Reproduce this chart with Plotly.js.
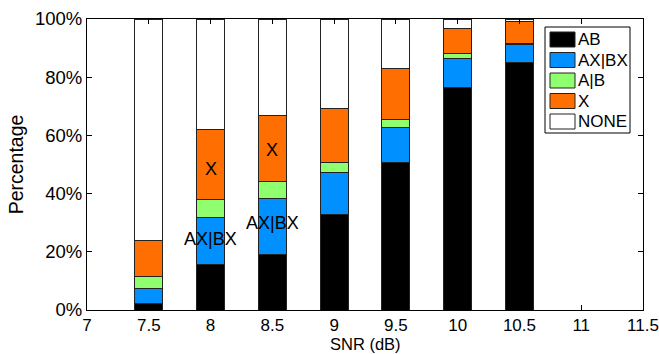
<!DOCTYPE html>
<html><head><meta charset="utf-8">
<script src="https://cdn.plot.ly/plotly-3.0.1.min.js"></script>
<style>html,body{margin:0;padding:0;background:#fff}#chart{width:659px;height:354px}</style>
</head><body><div id="chart"></div>
<script>
const snr = [7.5, 8, 8.5, 9, 9.5, 10, 10.5];
const seriesNames = ['AB', 'AX|BX', 'A|B', 'X', 'NONE'];
const ab   = [2.4, 15.8, 19.1, 32.9, 50.6, 76.6, 85.2];
const axbx = [5.0, 15.9, 19.3, 14.3, 12.0, 9.9, 5.9];
const aOrB = [4.1, 6.3, 5.7, 3.4, 2.8, 1.7, 0.6];
const xOnly = [12.5, 24.2, 22.9, 18.5, 17.6, 8.6, 7.6];
const none = [76.0, 37.8, 33.0, 30.9, 17.0, 3.2, 0.7];
const xTicks = [7, 7.5, 8, 8.5, 9, 9.5, 10, 10.5, 11, 11.5];
const yTicks = [0, 20, 40, 60, 80, 100];
const annX = [8, 8.5, 8, 8.5];
const annY = [48.5, 55, 24.3, 30];
const annText = ['X', 'X', 'AX|BX', 'AX|BX'];

const colors = ['#000000', '#0090ff', '#8fff6f', '#ff6e00', '#ffffff'];
const values = [ab, axbx, aOrB, xOnly, none];
const font = 'Liberation Sans, Arial, sans-serif';

const traces = values.map((v, i) => ({
  type: 'bar', x: snr, y: v, name: seriesNames[i], width: 0.225,
  marker: {color: colors[i], line: {color: '#222', width: 1}},
  hoverinfo: 'skip', showlegend: false
}));

const annotations = annX.map((x, i) => ({
  x: x, y: annY[i], xref: 'x', yref: 'y', text: annText[i], showarrow: false,
  font: {family: font, size: 18, color: '#000'}
}));

// x-axis title placed at the bottom edge of the page
annotations.push({xref: 'paper', yref: 'paper', x: 0.5, y: (310 - 354) / 291,
  xanchor: 'center', yanchor: 'bottom', text: 'SNR (dB)', showarrow: false, borderpad: 0,
  font: {family: font, size: 16.5, color: '#000'}});

// custom legend (paper coords)
const shapes = [];
const lx0 = (545 - 87) / 556, lx1 = (630 - 87) / 556;
const ly0 = (310 - 133) / 291, ly1 = (310 - 27) / 291;
shapes.push({type: 'rect', xref: 'paper', yref: 'paper', x0: lx0, x1: lx1, y0: ly0, y1: ly1,
  line: {color: '#000', width: 1}, fillcolor: '#fff'});
seriesNames.forEach((n, i) => {
  const cy = 39.5 + i * 20.5;
  shapes.push({type: 'rect', xref: 'paper', yref: 'paper',
    x0: (550 - 87) / 556, x1: (575 - 87) / 556,
    y0: (310 - (cy + 7.5)) / 291, y1: (310 - (cy - 7.5)) / 291,
    line: {color: '#222', width: 1}, fillcolor: colors[i]});
  annotations.push({xref: 'paper', yref: 'paper', x: (576 - 87) / 556, y: (310 - cy) / 291,
    xanchor: 'left', yanchor: 'middle', text: n, showarrow: false,
    font: {family: font, size: 17, color: '#000'}});
});

const layout = {
  width: 659, height: 354,
  margin: {l: 87, r: 16, t: 19, b: 44},
  paper_bgcolor: '#fff', plot_bgcolor: '#fff',
  barmode: 'stack',
  font: {family: font, size: 17, color: '#000'},
  xaxis: {
    range: [7, 11.5], tickvals: xTicks, ticktext: xTicks.map(String),
    ticks: 'inside', ticklen: 5, tickcolor: '#000', mirror: 'ticks',
    showline: true, linecolor: '#000', linewidth: 1, showgrid: false, zeroline: false,
    ticklabeloverflow: 'allow', automargin: false, ticklabelstandoff: 0,
    tickfont: {size: 17}
  },
  yaxis: {
    range: [0, 100], tickvals: yTicks, ticktext: yTicks.map(v => v + '%'),
    ticks: 'inside', ticklen: 5, tickcolor: '#000', mirror: 'ticks',
    showline: true, linecolor: '#000', linewidth: 1, showgrid: false, zeroline: false,
    automargin: false,
    title: {text: 'Percentage', font: {size: 19.5}, standoff: 6},
    tickfont: {size: 18.5}
  },
  annotations: annotations, shapes: shapes
};
Plotly.newPlot('chart', traces, layout, {displayModeBar: false, staticPlot: true});
</script></body></html>
